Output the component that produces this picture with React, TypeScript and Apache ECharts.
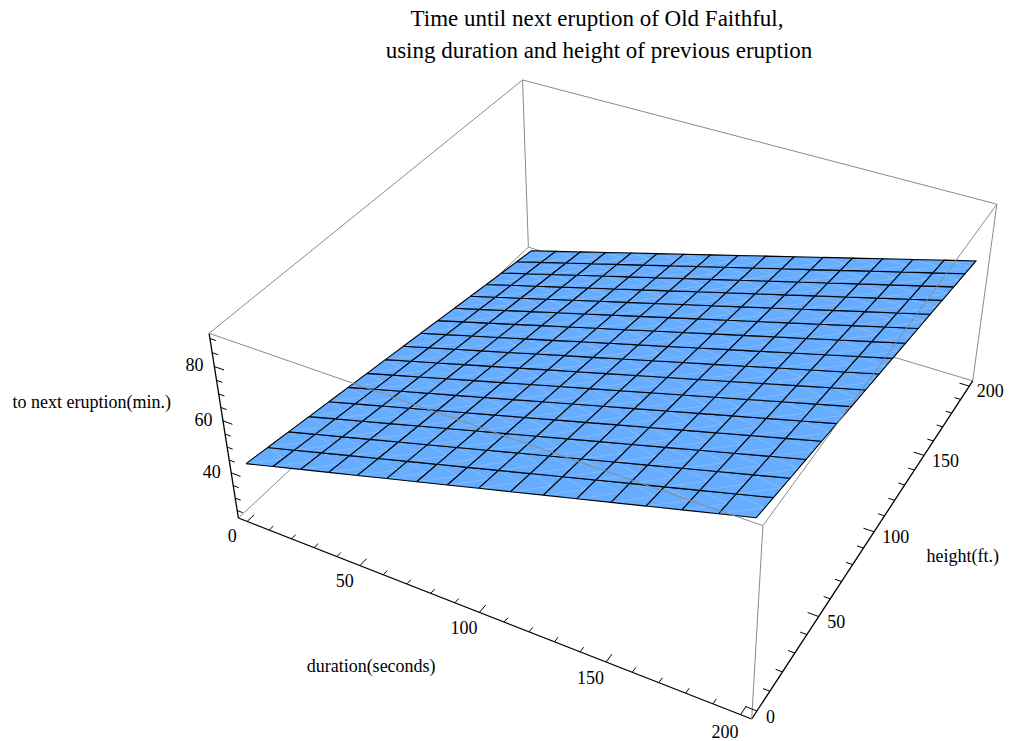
import React, { useEffect, useRef } from "react";
import * as echarts from "echarts";

const W = 1009;
const H = 741;

const titleLines = [
  "Time until next eruption of Old Faithful,",
  "using duration and height of previous eruption",
];

// mesh lines of the surface (duration in seconds, height in ft.)
const durationMesh = [0, 12.5, 25, 37.5, 50, 62.5, 75, 87.5, 100, 112.5, 125, 137.5, 150, 162.5, 175, 187.5, 200];
const heightMesh = [0, 12.5, 25, 37.5, 50, 62.5, 75, 87.5, 100, 112.5, 125, 137.5, 150, 162.5, 175, 187.5, 200];

// minutes until next eruption at each mesh node; one row per heightMesh entry, columns follow durationMesh
const minutesGrid = [
  [42.5, 45.5, 48.5, 51.5, 54.5, 57.5, 60.5, 63.5, 66.5, 69.5, 72.5, 75.5, 78.5, 81.5, 84.5, 87.5, 90.5],
  [41.3, 44.3, 47.3, 50.3, 53.3, 56.3, 59.3, 62.3, 65.3, 68.3, 71.3, 74.3, 77.3, 80.3, 83.3, 86.3, 89.3],
  [40.1, 43.1, 46.1, 49.1, 52.1, 55.1, 58.1, 61.1, 64.1, 67.1, 70.1, 73.1, 76.1, 79.1, 82.1, 85.1, 88.1],
  [38.9, 41.9, 44.9, 47.9, 50.9, 53.9, 56.9, 59.9, 62.9, 65.9, 68.9, 71.9, 74.9, 77.9, 80.9, 83.9, 86.9],
  [37.7, 40.7, 43.7, 46.7, 49.7, 52.7, 55.7, 58.7, 61.7, 64.7, 67.7, 70.7, 73.7, 76.7, 79.7, 82.7, 85.7],
  [36.5, 39.5, 42.5, 45.5, 48.5, 51.5, 54.5, 57.5, 60.5, 63.5, 66.5, 69.5, 72.5, 75.5, 78.5, 81.5, 84.5],
  [35.3, 38.3, 41.3, 44.3, 47.3, 50.3, 53.3, 56.3, 59.3, 62.3, 65.3, 68.3, 71.3, 74.3, 77.3, 80.3, 83.3],
  [34.1, 37.1, 40.1, 43.1, 46.1, 49.1, 52.1, 55.1, 58.1, 61.1, 64.1, 67.1, 70.1, 73.1, 76.1, 79.1, 82.1],
  [32.9, 35.9, 38.9, 41.9, 44.9, 47.9, 50.9, 53.9, 56.9, 59.9, 62.9, 65.9, 68.9, 71.9, 74.9, 77.9, 80.9],
  [31.7, 34.7, 37.7, 40.7, 43.7, 46.7, 49.7, 52.7, 55.7, 58.7, 61.7, 64.7, 67.7, 70.7, 73.7, 76.7, 79.7],
  [30.5, 33.5, 36.5, 39.5, 42.5, 45.5, 48.5, 51.5, 54.5, 57.5, 60.5, 63.5, 66.5, 69.5, 72.5, 75.5, 78.5],
  [29.3, 32.3, 35.3, 38.3, 41.3, 44.3, 47.3, 50.3, 53.3, 56.3, 59.3, 62.3, 65.3, 68.3, 71.3, 74.3, 77.3],
  [28.1, 31.1, 34.1, 37.1, 40.1, 43.1, 46.1, 49.1, 52.1, 55.1, 58.1, 61.1, 64.1, 67.1, 70.1, 73.1, 76.1],
  [26.9, 29.9, 32.9, 35.9, 38.9, 41.9, 44.9, 47.9, 50.9, 53.9, 56.9, 59.9, 62.9, 65.9, 68.9, 71.9, 74.9],
  [25.7, 28.7, 31.7, 34.7, 37.7, 40.7, 43.7, 46.7, 49.7, 52.7, 55.7, 58.7, 61.7, 64.7, 67.7, 70.7, 73.7],
  [24.5, 27.5, 30.5, 33.5, 36.5, 39.5, 42.5, 45.5, 48.5, 51.5, 54.5, 57.5, 60.5, 63.5, 66.5, 69.5, 72.5],
  [23.3, 26.3, 29.3, 32.3, 35.3, 38.3, 41.3, 44.3, 47.3, 50.3, 53.3, 56.3, 59.3, 62.3, 65.3, 68.3, 71.3],
];

const durationMajorTicks = [0, 50, 100, 150, 200];
const durationMinorTicks = [10, 20, 30, 40, 60, 70, 80, 90, 110, 120, 130, 140, 160, 170, 180, 190];
const heightMajorTicks = [0, 50, 100, 150, 200];
const heightMinorTicks = [10, 20, 30, 40, 60, 70, 80, 90, 110, 120, 130, 140, 160, 170, 180, 190];
const minutesMajorTicks = [40, 60, 80];
const minutesMinorTicks = [25, 30, 35, 45, 50, 55, 65, 70, 75, 85, 90];

const durationName = "duration(seconds)";
const heightName = "height(ft.)";
const minutesName = "to next eruption(min.)";

// ---- view settings (Mathematica style perspective box) ----
const VIEW_POINT = [1.3, -2.4, 2];
const BOX_RATIOS = [1, 1, 0.4];
const RANGE_PAD = 0.02;
const PLOT_REGION = { left: 206, top: 80, right: 1000, bottom: 719 };
const MAJOR_TICK = 0.02;
const MINOR_TICK = 0.012;
const FONT = "'Liberation Serif', 'Times New Roman', serif";
const SURFACE_COLOR = "#66acff";

const extent = (a: number[]) => [Math.min(...a), Math.max(...a)];
const padRange = (r: number[]) => {
  const p = (r[1] - r[0]) * RANGE_PAD;
  return [r[0] - p, r[1] + p];
};
const dR = padRange(extent(durationMesh));
const hR = padRange(extent(heightMesh));
const zR = padRange(extent(minutesGrid.flat()));
const maxRatio = Math.max(...BOX_RATIOS);

const norm = (d: number, h: number, z: number) => [
  ((d - dR[0]) / (dR[1] - dR[0]) - 0.5) * (BOX_RATIOS[0] / maxRatio),
  ((h - hR[0]) / (hR[1] - hR[0]) - 0.5) * (BOX_RATIOS[1] / maxRatio),
  ((z - zR[0]) / (zR[1] - zR[0]) - 0.5) * (BOX_RATIOS[2] / maxRatio),
];

const dot = (a: number[], b: number[]) => a[0] * b[0] + a[1] * b[1] + a[2] * b[2];
const vlen = Math.hypot(VIEW_POINT[0], VIEW_POINT[1], VIEW_POINT[2]);
const fwd = VIEW_POINT.map((c) => -c / vlen);
const rl = Math.hypot(fwd[1], fwd[0]);
const right = [fwd[1] / rl, -fwd[0] / rl, 0];
const up = [
  right[1] * fwd[2] - right[2] * fwd[1],
  right[2] * fwd[0] - right[0] * fwd[2],
  right[0] * fwd[1] - right[1] * fwd[0],
];
const rawProject = (p: number[]) => {
  const q = [p[0] - VIEW_POINT[0], p[1] - VIEW_POINT[1], p[2] - VIEW_POINT[2]];
  const depth = dot(q, fwd);
  return [dot(q, right) / depth, dot(q, up) / depth];
};

const boxCornersN: number[][] = [];
for (let iz = 0; iz < 2; iz++)
  for (let iy = 0; iy < 2; iy++)
    for (let ix = 0; ix < 2; ix++) boxCornersN.push(norm(dR[ix], hR[iy], zR[iz]));
const pc = boxCornersN.map(rawProject);
const bx0 = Math.min(...pc.map((p) => p[0]));
const bx1 = Math.max(...pc.map((p) => p[0]));
const by0 = Math.min(...pc.map((p) => p[1]));
const by1 = Math.max(...pc.map((p) => p[1]));
const scale = Math.min(
  (PLOT_REGION.right - PLOT_REGION.left) / (bx1 - bx0),
  (PLOT_REGION.bottom - PLOT_REGION.top) / (by1 - by0)
);
const cx = (PLOT_REGION.left + PLOT_REGION.right) / 2 - (scale * (bx0 + bx1)) / 2;
const cy = PLOT_REGION.top + scale * by1;
const screenN = (n: number[]) => {
  const p = rawProject(n);
  return [cx + scale * p[0], cy - scale * p[1]];
};
const screen = (d: number, h: number, z: number) => screenN(norm(d, h, z));
const addN = (a: number[], b: number[]) => [a[0] + b[0], a[1] + b[1], a[2] + b[2]];

// box edges: [cornerA, cornerB, layer(0 back / 1 front), isAxis]
const EDGES = [
  [0, 1, 1, 1],
  [1, 3, 1, 1],
  [0, 4, 1, 1],
  [3, 2, 0, 0],
  [2, 0, 0, 0],
  [2, 6, 0, 0],
  [4, 5, 1, 0],
  [5, 7, 1, 0],
  [7, 6, 1, 0],
  [6, 4, 1, 0],
  [1, 5, 1, 0],
  [3, 7, 1, 0],
];

export default function App() {
  const ref = useRef<HTMLDivElement>(null);
  useEffect(() => {
    if (!ref.current) return;
    const chart = echarts.init(ref.current, undefined, { renderer: "svg" });

    const cells: number[][] = [];
    for (let j = 0; j < heightMesh.length - 1; j++)
      for (let i = 0; i < durationMesh.length - 1; i++) cells.push([i, j]);

    const ticks: number[][] = [];
    durationMinorTicks.forEach((v) => ticks.push([0, v, 0]));
    durationMajorTicks.forEach((v) => ticks.push([0, v, 1]));
    heightMinorTicks.forEach((v) => ticks.push([1, v, 0]));
    heightMajorTicks.forEach((v) => ticks.push([1, v, 1]));
    minutesMinorTicks.forEach((v) => ticks.push([2, v, 0]));
    minutesMajorTicks.forEach((v) => ticks.push([2, v, 1]));

    const labels: number[][] = [];
    durationMajorTicks.forEach((v) => labels.push([0, v]));
    heightMajorTicks.forEach((v) => labels.push([1, v]));
    minutesMajorTicks.forEach((v) => labels.push([2, v]));

    const edgeSeries = (layer: number, z: number) => ({
      type: "custom",
      coordinateSystem: "cartesian2d",
      clip: false,
      silent: true,
      z,
      data: EDGES.map((e, k) => [k, layer]).filter((e) => EDGES[e[0]][2] === layer),
      renderItem: (params: any, api: any) => {
        const e = EDGES[api.value(0)];
        const a = api.coord(screenN(boxCornersN[e[0]]));
        const b = api.coord(screenN(boxCornersN[e[1]]));
        return {
          type: "line",
          shape: { x1: a[0], y1: a[1], x2: b[0], y2: b[1] },
          style: { stroke: e[3] ? "#000" : "#8a8a8a", lineWidth: e[3] ? 1.3 : 1 },
        };
      },
    });

    const option: any = {
      animation: false,
      backgroundColor: "#ffffff",
      graphic: [
        {
          type: "text",
          x: 597,
          y: 18,
          silent: true,
          style: {
            text: titleLines[0],
            fontFamily: FONT,
            fontSize: 23,
            fill: "#000",
            align: "center",
            verticalAlign: "middle",
          },
        },
        {
          type: "text",
          x: 599,
          y: 50,
          silent: true,
          style: {
            text: titleLines[1],
            fontFamily: FONT,
            fontSize: 23,
            fill: "#000",
            align: "center",
            verticalAlign: "middle",
          },
        },
      ],
      grid: { left: 0, right: 0, top: 0, bottom: 0 },
      xAxis: { type: "value", min: 0, max: W, show: false },
      yAxis: { type: "value", min: 0, max: H, inverse: true, show: false },
      series: [
        edgeSeries(0, 1),
        {
          type: "custom",
          name: "surface",
          coordinateSystem: "cartesian2d",
          clip: false,
          silent: true,
          z: 2,
          data: cells,
          renderItem: (params: any, api: any) => {
            const i = api.value(0);
            const j = api.value(1);
            const corners = [
              [i, j],
              [i + 1, j],
              [i + 1, j + 1],
              [i, j + 1],
            ].map(([a, b]) => api.coord(screen(durationMesh[a], heightMesh[b], minutesGrid[b][a])));
            const mid = (p: number[], q: number[]) => [(p[0] + q[0]) / 2, (p[1] + q[1]) / 2];
            return {
              type: "group",
              children: [
                {
                  type: "polygon",
                  shape: { points: corners },
                  style: { fill: SURFACE_COLOR, stroke: SURFACE_COLOR, lineWidth: 0.5 },
                },
                {
                  type: "polyline",
                  shape: { points: [corners[0], mid(corners[1], corners[2]), corners[3]] },
                  style: { stroke: "rgba(255,255,255,0.3)", lineWidth: 0.6, fill: "none" },
                },
                {
                  type: "polyline",
                  shape: { points: [corners[0], corners[1], corners[2], corners[3], corners[0]] },
                  style: { stroke: "#000", lineWidth: 1.1, fill: "none" },
                },
              ],
            };
          },
        },
        edgeSeries(1, 3),
        {
          type: "custom",
          name: "ticks",
          coordinateSystem: "cartesian2d",
          clip: false,
          silent: true,
          z: 4,
          data: ticks,
          renderItem: (params: any, api: any) => {
            const axis = api.value(0);
            const v = api.value(1);
            const L = api.value(2) ? MAJOR_TICK : MINOR_TICK;
            let base: number[];
            let dir: number[];
            if (axis === 0) {
              base = norm(v, hR[0], zR[0]);
              dir = [0, L, 0];
            } else if (axis === 1) {
              base = norm(dR[1], v, zR[0]);
              dir = [-L, 0, 0];
            } else {
              base = norm(dR[0], hR[0], v);
              dir = [L, 0, 0];
            }
            const a = api.coord(screenN(base));
            const b = api.coord(screenN(addN(base, dir)));
            return {
              type: "line",
              shape: { x1: a[0], y1: a[1], x2: b[0], y2: b[1] },
              style: { stroke: "#000", lineWidth: 1 },
            };
          },
        },
        {
          type: "custom",
          name: "tickLabels",
          coordinateSystem: "cartesian2d",
          clip: false,
          silent: true,
          z: 5,
          data: labels,
          renderItem: (params: any, api: any) => {
            const axis = api.value(0);
            const v = api.value(1);
            let n: number[];
            let align = "center";
            if (axis === 0) {
              n = addN(norm(v, hR[0], zR[0]), [-0.012, -0.03, -0.016]);
              align = "center";
            } else if (axis === 1) {
              n = addN(norm(dR[1], v, zR[0]), [0.016, 0, -0.006]);
              align = "left";
            } else {
              n = addN(norm(dR[0], hR[0], v), [-0.014, -0.01, 0.004]);
              align = "right";
            }
            const p = api.coord(screenN(n));
            return {
              type: "text",
              x: p[0],
              y: p[1],
              style: {
                text: String(v),
                fill: "#000",
                fontFamily: FONT,
                fontSize: 18,
                align,
                verticalAlign: "middle",
              },
            };
          },
        },
        {
          type: "custom",
          name: "axisNames",
          coordinateSystem: "cartesian2d",
          clip: false,
          silent: true,
          z: 5,
          data: [[0, 0], [1, 0], [2, 0]],
          renderItem: (params: any, api: any) => {
            const axis = api.value(0);
            let n: number[];
            let text: string;
            let align = "center";
            if (axis === 0) {
              n = addN(norm(77, hR[0], zR[0]), [0, -0.16, -0.037]);
              text = durationName;
            } else if (axis === 1) {
              n = addN(norm(dR[1], 107, zR[0]), [0.153, 0, -0.018]);
              text = heightName;
            } else {
              n = addN(norm(dR[0], hR[0], 70), [-0.056, -0.056, 0]);
              text = minutesName;
              align = "right";
            }
            const p = api.coord(screenN(n));
            return {
              type: "text",
              x: p[0],
              y: p[1],
              style: {
                text,
                fill: "#000",
                fontFamily: FONT,
                fontSize: 18,
                align,
                verticalAlign: "middle",
              },
            };
          },
        },
      ],
    };
    chart.setOption(option);
    return () => chart.dispose();
  }, []);
  return (
    <div
      ref={ref}
      style={{ position: "fixed", left: 0, top: 0, width: W, height: H, background: "#fff" }}
    />
  );
}
